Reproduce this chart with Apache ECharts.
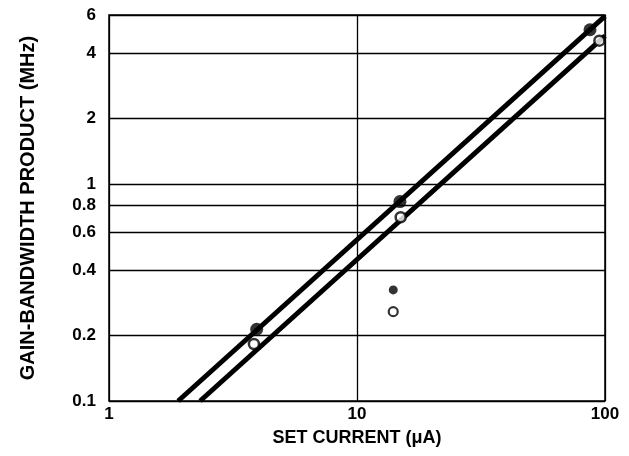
<!DOCTYPE html>
<html><head><meta charset="utf-8">
<script src="https://cdn.jsdelivr.net/npm/echarts@6/dist/echarts.min.js"></script>
<style>html,body{margin:0;padding:0;background:#fff}#c{width:629px;height:456px}</style>
</head><body><div id="c"></div>
<script>
const xTickLabels = ['1', '10', '100'];
const yTickValues = [0.1, 0.2, 0.4, 0.6, 0.8, 1, 2, 4, 6];
const yTickLabels = ['0.1', '0.2', '0.4', '0.6', '0.8', '1', '2', '4', '6'];
const upperLine = [[1.9, 0.1], [100, 5.93]];
const lowerLine = [[2.33, 0.1], [100, 4.81]];
const filledPoints = [[3.94, 0.214], [14.9, 0.829], [87, 5.13]];
const openPoints = [[3.84, 0.183], [15.0, 0.702], [94.9, 4.57]];
const legendFilled = [[14.0, 0.325]];
const legendOpen = [[14.0, 0.258]];

const FONT = '"Liberation Sans", Arial, sans-serif';
const chart = echarts.init(document.getElementById('c'));
chart.setOption({
  animation: false,
  backgroundColor: '#fff',
  grid: { left: 109, right: 24, top: 15, bottom: 55, show: true, borderColor: '#000', borderWidth: 1.5, backgroundColor: 'transparent' },
  xAxis: {
    type: 'log', logBase: 10, min: 1, max: 100,
    name: 'SET CURRENT (\u03bcA)', nameLocation: 'middle', nameGap: 28,
    nameTextStyle: { fontFamily: FONT, fontWeight: 'bold', fontSize: 18, color: '#000' },
    axisLine: { show: false }, axisTick: { show: false },
    splitLine: { show: true, lineStyle: { color: '#000', width: 1.3 } },
    axisLabel: {
      fontFamily: FONT, fontWeight: 'bold', fontSize: 17, color: '#000', margin: 5,
      formatter: v => { const i = Math.round(Math.log10(v)); return xTickLabels[i] !== undefined ? xTickLabels[i] : ''; }
    }
  },
  yAxis: {
    type: 'log', logBase: 10, min: 0.1, max: 6,
    name: 'GAIN-BANDWIDTH PRODUCT (MHz)', nameLocation: 'middle', nameGap: 71,
    nameTextStyle: { fontFamily: FONT, fontWeight: 'bold', fontSize: 20, color: '#000' },
    axisLine: { show: false }, axisTick: { show: false },
    splitLine: { show: false }, axisLabel: { show: false }
  },
  series: [
    {
      type: 'line', data: upperLine, symbol: 'none', silent: true, z: 1,
      lineStyle: { opacity: 0 },
      markLine: {
        silent: true, symbol: ['none', 'none'], animation: false,
        lineStyle: { color: '#000', width: 1.3, type: 'solid' },
        label: { position: 'start', distance: 13, fontFamily: FONT, fontWeight: 'bold', fontSize: 17, color: '#000' },
        data: yTickValues.map((v, i) => ({ yAxis: v, label: { formatter: yTickLabels[i] } }))
      }
    },
    { type: 'line', data: upperLine, symbol: 'none', z: 3, lineStyle: { color: '#000', width: 5 } },
    { type: 'line', data: lowerLine, symbol: 'none', z: 3, lineStyle: { color: '#000', width: 5 } },
    { type: 'scatter', data: filledPoints, symbol: 'circle', symbolSize: 13, z: 5,
      itemStyle: { color: '#000', borderColor: '#000', borderWidth: 0 } },
    { type: 'scatter', data: openPoints, symbol: 'circle', symbolSize: 10, z: 5,
      itemStyle: { color: '#fff', borderColor: '#000', borderWidth: 2.5 } },
    { type: 'scatter', data: legendFilled, symbol: 'circle', symbolSize: 9, z: 5,
      itemStyle: { color: '#000', borderWidth: 0 } },
    { type: 'scatter', data: legendOpen, symbol: 'circle', symbolSize: 9, z: 5,
      itemStyle: { color: '#fff', borderColor: '#000', borderWidth: 2.2 } }
  ]
});
</script></body></html>
